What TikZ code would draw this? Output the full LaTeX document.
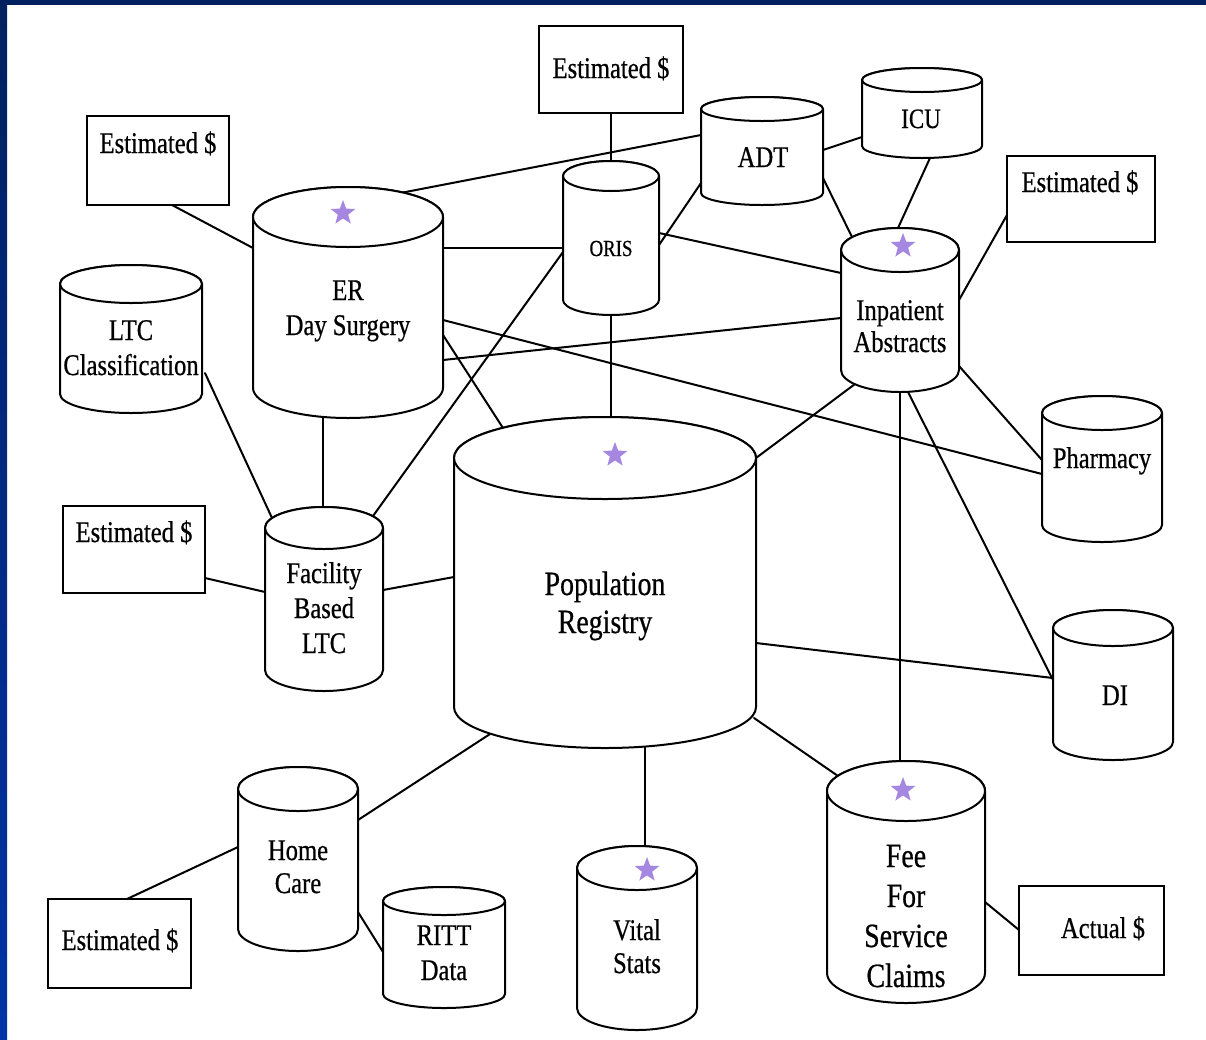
\documentclass[tikz,border=0pt]{standalone}
\usepackage{fontspec}
\setmainfont{Liberation Serif}[FakeStretch=0.82,FakeBold=0.6]
\usetikzlibrary{shapes.geometric}
\definecolor{starc}{RGB}{165,135,225}
\definecolor{navyframe}{RGB}{0,32,96}
\definecolor{blueframe}{RGB}{0,51,165}
\pgfdeclarelayer{bgzero}
\pgfdeclarelayer{background}
\pgfsetlayers{bgzero,background,main}
\tikzset{
  lbl/.style={inner sep=0, outer sep=0, align=center, anchor=base, font=\fontsize{30}{35}\selectfont},
  cylbody/.style={inner sep=0, outer sep=0, draw=none},
  box/.style={draw, line width=2pt, inner sep=0, outer sep=0, fill=white},
  link/.style={line width=2pt, line cap=round},
  cyl/.style={line width=2pt, fill=white, line join=round},
  starmark/.style={star, star points=5, star point ratio=2.4, fill=starc, draw=none, minimum size=26pt, inner sep=0},
}
\newcommand\dbcyl[6]{%
  \node[cylbody, minimum width={2*#5pt}, minimum height={(#4-#3)*1pt}] (#1) at (#2,{(#3+#4)/2}) {};
  \path[cyl,draw] (#1.north west) -- (#1.south west) arc[start angle=180,end angle=360,x radius=#5pt,y radius=#6pt] -- (#1.north east) arc[start angle=0,end angle=180,x radius=#5pt,y radius=#6pt] -- cycle;
  \draw[cyl] (#1.north) ellipse[x radius=#5pt,y radius=#6pt];
}
\begin{document}
\begin{tikzpicture}[x=1pt,y=-1pt]
\useasboundingbox (0,0) rectangle (1206,1039);
\begin{pgfonlayer}{bgzero}
  \fill[white] (0,0) rectangle (1206,1039);
  \fill[navyframe] (0,0) rectangle (1206,5);
  \shade[top color=navyframe, bottom color=blueframe] (0,0) rectangle (7,1039);
\end{pgfonlayer}

% cylinders: name, cx, ytop, ybot, rx, ry
\dbcyl{er}{348}{217}{388}{95}{30}
\dbcyl{oris}{611}{176}{300}{48}{15}
\dbcyl{adt}{762}{109}{193}{61}{12}
\dbcyl{icu}{922}{80}{146}{60}{12}
\dbcyl{ipa}{900}{250}{370}{59}{22}
\dbcyl{ltc}{131}{284}{394}{71}{19}
\dbcyl{fac}{324}{528}{670}{59}{21}
\dbcyl{pop}{605}{458}{707}{151}{41}
\dbcyl{pha}{1102}{413}{525}{60}{17}
\dbcyl{di}{1113}{628}{742}{60}{18}
\dbcyl{hc}{298}{789}{929}{60}{22}
\dbcyl{ritt}{444}{901}{994}{61}{14}
\dbcyl{vs}{637}{868}{1008}{60}{22}
\dbcyl{fee}{906}{791}{973}{79}{30}

% boxes
\node[box, minimum width=142pt, minimum height=89pt] (e1) at (158,160.5) {};
\node[box, minimum width=144pt, minimum height=87pt] (e2) at (611,69.5) {};
\node[box, minimum width=148pt, minimum height=86pt] (e3) at (1081,199) {};
\node[box, minimum width=142pt, minimum height=87pt] (e4) at (134,549.5) {};
\node[box, minimum width=143pt, minimum height=89pt] (e5) at (119.5,943.5) {};
\node[box, minimum width=145pt, minimum height=89pt] (act) at (1091.5,930.5) {};

% box labels
\node[lbl] (e1l) at (158,153) {Estimated \$};
\node[lbl] (e2l) at (611,78) {Estimated \$};
\node[lbl] (e3l) at (1080,192) {Estimated \$};
\node[lbl] (e4l) at (134,542) {Estimated \$};
\node[lbl] (e5l) at (120,950) {Estimated \$};
\node[lbl] (actl) at (1103,938) {Actual \$};

% cylinder labels (anchor = baseline of last line)
\node[lbl] (erl) at (348,335) {ER\\Day Surgery};
\node[lbl, font=\fontsize{23}{26}\selectfont] (orisl) at (611,256) {ORIS};
\node[lbl] (adtl) at (763,167) {ADT};
\node[lbl, font=\fontsize{28}{32}\selectfont] (icul) at (921,128) {ICU};
\node[lbl, font=\fontsize{30}{32}\selectfont] (ipal) at (900,352) {Inpatient\\Abstracts};
\node[lbl] (ltcl) at (131,375) {LTC\\Classification};
\node[lbl] (facl) at (324,653) {Facility\\Based\\LTC};
\node[lbl, font=\fontsize{34}{38}\selectfont] (popl) at (605,633) {Population\\Registry};
\node[lbl] (phal) at (1102,468) {Pharmacy};
\node[lbl] (dil) at (1115,705) {DI};
\node[lbl, font=\fontsize{30}{33}\selectfont] (hcl) at (298,893) {Home\\Care};
\node[lbl] (rittl) at (444,980) {RITT\\Data};
\node[lbl, font=\fontsize{30}{33}\selectfont] (vsl) at (637,973) {Vital\\Stats};
\node[lbl, font=\fontsize{34}{40}\selectfont] (feel) at (906,987) {Fee\\For\\Service\\Claims};

% stars
\node[starmark] (s1) at (343,213) {};
\node[starmark] (s2) at (903,246) {};
\node[starmark] (s3) at (615,455) {};
\node[starmark] (s4) at (647,870) {};
\node[starmark] (s5) at (903,790) {};

% connectors
\begin{pgfonlayer}{background}
\draw[link] ([shift={(14,44.5)}]e1.center) -- ([shift={(-95,-54.5)}]er.center);
\draw[link] ([shift={(55,-110)}]er.center) -- ([shift={(-61,-16)}]adt.center);
\draw[link] (e2.south) -- ([shift={(0,-77)}]oris.center);
\draw[link] ([shift={(-61,32)}]adt.center) -- ([shift={(48,7)}]oris.center);
\draw[link] ([shift={(61,-1)}]adt.center) -- ([shift={(-60,24)}]icu.center);
\draw[link] ([shift={(61,27)}]adt.center) -- ([shift={(-48,-73)}]ipa.center);
\draw[link] ([shift={(8,45)}]icu.center) -- ([shift={(-2,-82)}]ipa.center);
\draw[link] ([shift={(95,-54.5)}]er.center) -- ([shift={(-48,10)}]oris.center);
\draw[link] ([shift={(48,-5)}]oris.center) -- ([shift={(-59,-37)}]ipa.center);
\draw[link] ([shift={(-74,16)}]e3.center) -- ([shift={(59,-10)}]ipa.center);
\draw[link] ([shift={(95,57.5)}]er.center) -- ([shift={(-59,8)}]ipa.center);
\draw[link] ([shift={(95,17.5)}]er.center) -- ([shift={(-60,5)}]pha.center);
\draw[link] ([shift={(59,56)}]ipa.center) -- ([shift={(-60,-9)}]pha.center);
\draw[link] ([shift={(95,32.5)}]er.center) -- ([shift={(-102,-154.5)}]pop.center);
\draw[link] ([shift={(0,77)}]oris.center) -- ([shift={(6,-165.5)}]pop.center);
\draw[link] ([shift={(-48,14)}]oris.center) -- ([shift={(49,-83)}]fac.center);
\draw[link] ([shift={(-25,114.5)}]er.center) -- ([shift={(-1,-92)}]fac.center);
\draw[link] ([shift={(74,34)}]ltc.center) -- ([shift={(-52,-81)}]fac.center);
\draw[link] ([shift={(71,28.5)}]e4.center) -- ([shift={(-59,-7)}]fac.center);
\draw[link] ([shift={(59,-9)}]fac.center) -- ([shift={(-151,-5.5)}]pop.center);
\draw[link] ([shift={(-45,74)}]ipa.center) -- ([shift={(151,-124.5)}]pop.center);
\draw[link] ([shift={(0,82)}]ipa.center) -- ([shift={(-6,-121)}]fee.center);
\draw[link] ([shift={(8,82)}]ipa.center) -- ([shift={(-60,-5)}]di.center);
\draw[link] ([shift={(151,60.5)}]pop.center) -- ([shift={(-60,-7)}]di.center);
\draw[link] ([shift={(149,135.5)}]pop.center) -- ([shift={(-68,-106)}]fee.center);
\draw[link] ([shift={(40,163.5)}]pop.center) -- ([shift={(8,-92)}]vs.center);
\draw[link] ([shift={(-115,151.5)}]pop.center) -- ([shift={(60,-39)}]hc.center);
\draw[link] ([shift={(-60,-12)}]hc.center) -- ([shift={(7.5,-44.5)}]e5.center);
\draw[link] ([shift={(60,53)}]hc.center) -- ([shift={(-61,4.5)}]ritt.center);
\draw[link] ([shift={(79,20)}]fee.center) -- ([shift={(-72.5,-0.5)}]act.center);
\end{pgfonlayer}
\end{tikzpicture}
\end{document}
